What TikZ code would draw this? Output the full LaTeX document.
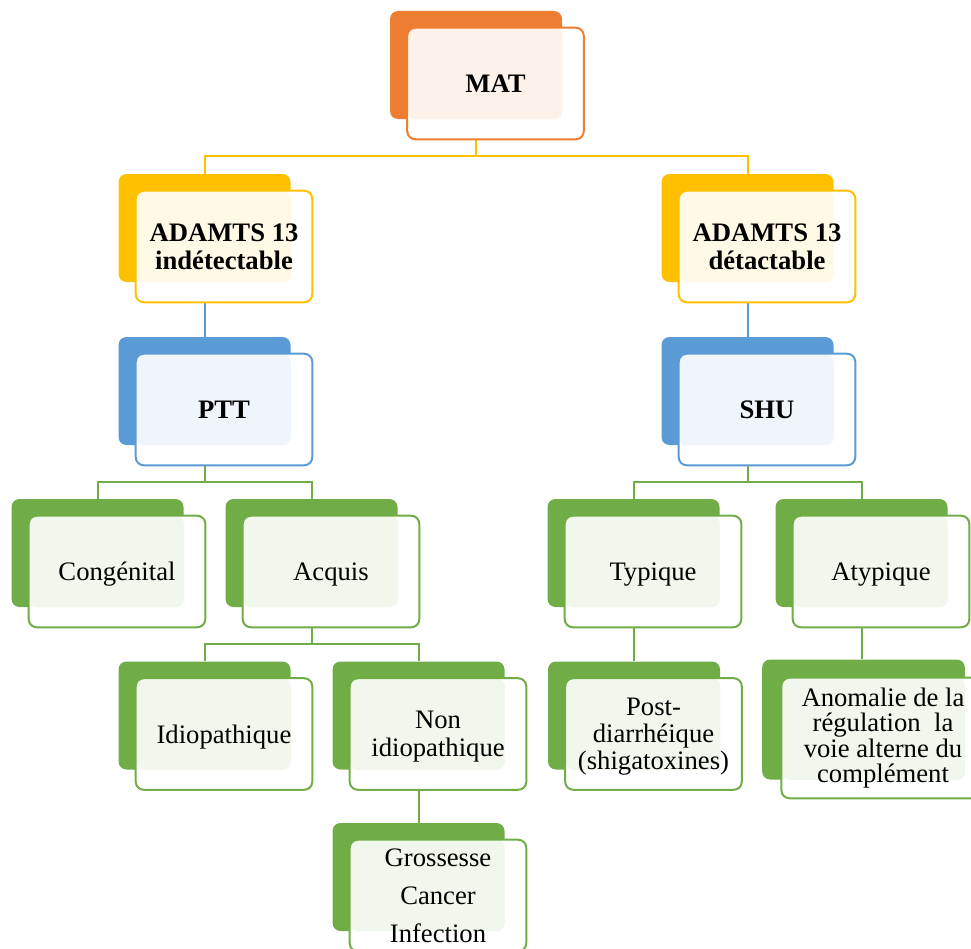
\documentclass[tikz,border=0pt]{standalone}
\usepackage{fontspec}
\setmainfont{Liberation Serif}
\usetikzlibrary{positioning,calc}

\definecolor{matorange}{HTML}{ED7D31}
\definecolor{adgold}{HTML}{FFC000}
\definecolor{pttblue}{HTML}{5B9BD5}
\definecolor{leafgreen}{HTML}{70AD47}

\pgfdeclarelayer{links}
\pgfdeclarelayer{boxes}
\pgfsetlayers{links,boxes,main}

% name, colour, x, y, text  (x,y = centre of the front card)
\newcommand\tile[6][]{%
  \node[card,#1] (#2) at (#4,#5) {#6};
  \begin{pgfonlayer}{boxes}
    \node[cardback=#3,#1] (#2-back) at ($(#2)+(-19.5,-18.5)$) {};
    \fill[white,rounded corners=6pt] (#2.north west) rectangle (#2.south east);
    \fill[#3!10,rounded corners=6pt] (#2.north west) rectangle (#2-back.south east);
    \draw[#3,line width=1.5pt,rounded corners=6pt] (#2.north west) rectangle (#2.south east);
  \end{pgfonlayer}
}

\begin{document}
\begin{tikzpicture}[
x=0.75pt,y=-0.75pt,
card/.style={
  minimum width=132pt,
  minimum height=83.25pt,
  inner sep=0pt,
  align=center,
  text depth=0pt,
  font=\fontsize{20}{21}\selectfont
  },
head/.style={font=\fontsize{20}{21}\selectfont\bfseries},
cardback/.style={
  fill=#1,
  rounded corners=6pt,
  minimum width=129pt,
  minimum height=81pt,
  inner sep=0pt
  },
link/.style={draw=#1,line width=1.5pt}
]
\path[use as bounding box] (0,0) rectangle (971,949);

\tile[head]{mat}{matorange}{495.5}{83.5}{MAT}
\tile[head]{adi}{adgold}{224}{246.5}{ADAMTS 13\\indétectable}
\tile[head]{add}{adgold}{767}{246.5}{ADAMTS 13\\détactable}
\tile[head]{ptt}{pttblue}{224}{409.5}{PTT}
\tile[head]{shu}{pttblue}{767}{409.5}{SHU}
\tile{cong}{leafgreen}{117}{571.5}{Congénital}
\tile{acq}{leafgreen}{331}{571.5}{Acquis}
\tile{typ}{leafgreen}{653}{571.5}{Typique}
\tile{atyp}{leafgreen}{881}{571.5}{Atypique}
\tile{idio}{leafgreen}{224}{734}{Idiopathique}
\tile{nonidio}{leafgreen}{438}{734}{Non\\idiopathique}
\tile[font=\fontsize{20}{20.25}\selectfont]{post}{leafgreen}{653.5}{734}{Post-\\diarrhéique\\(shigatoxines)}
\tile[minimum width=152pt,minimum height=90pt,text depth=,font=\fontsize{20}{19}\selectfont]{anom}{leafgreen}{883}{738}{Anomalie de la\\régulation~ la\\voie alterne du\\complément}
\tile[font=\fontsize{20}{28.5}\selectfont]{gross}{leafgreen}{438}{895.5}{Grossesse\\Cancer\\Infection}

\begin{pgfonlayer}{links}
\foreach \p/\c/\k in {mat/adi/adgold, mat/add/adgold,
    ptt/cong/leafgreen, ptt/acq/leafgreen,
    shu/typ/leafgreen, shu/atyp/leafgreen,
    acq/idio/leafgreen, acq/nonidio/leafgreen}
  \draw[link=\k] (\p-back.south) -- ++(0,36.5) -| (\c-back.north);
\foreach \p/\c/\k in {adi/ptt/pttblue, add/shu/pttblue,
    nonidio/gross/leafgreen, typ/post/leafgreen, atyp/anom/leafgreen}
  \draw[link=\k] (\p-back.south) -- (\p-back.south |- \c-back.north);
\end{pgfonlayer}
\end{tikzpicture}
\end{document}
